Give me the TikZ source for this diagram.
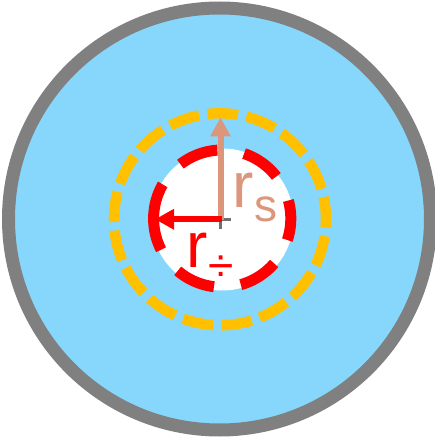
\documentclass[tikz,border=0pt]{standalone}
\usepackage{fontspec}
\setmainfont{Liberation Sans}
\usetikzlibrary{arrows.meta}
\definecolor{skyfill}{HTML}{87D7FD}
\definecolor{rimgray}{HTML}{808080}
\definecolor{goldline}{HTML}{FFC000}
\definecolor{salmonline}{HTML}{DC967C}
\definecolor{redline}{HTML}{FF0000}
\definecolor{markgray}{HTML}{707070}
\tikzset{
  rim/.style={draw=rimgray, line width=13pt, fill=skyfill},
  goldring/.style={draw=goldline, line width=10.5pt, dash pattern=on 30.68pt off 8.5pt},
  redring/.style={draw=redline, line width=11pt, dash pattern=on 40.11pt off 27.06pt},
  radiusarrow/.style={line width=6pt, -{Triangle[length=19pt,width=19.5pt]}},
  lbl/.style={anchor=base west, inner sep=0pt, outer sep=0pt}
}
\begin{document}
\begin{tikzpicture}[x=1pt,y=1pt]
\useasboundingbox (0,0) rectangle (435,440);
\fill[white] (0,0) rectangle (435,440);
% outer disc
\coordinate (bigc) at (219.5,221);
\path[rim] (bigc) circle[radius=211];
% white core
\coordinate (corec) at (222.5,220.5);
\fill[white] (corec) circle[radius=71];
% gold dashed ring
\coordinate (goldc) at (220,220.7);
\path[goldring] (goldc) ++(-4.5:106) arc[start angle=-4.5, end angle=355.5, radius=106];
% red dashed ring
\coordinate (redc) at (222.2,221.4);
\path[redring] (redc) ++(173.5:68.6) arc[start angle=173.5, end angle=533.5, radius=68.6];
% centre mark
\coordinate (c) at (220.7,220.5);
\coordinate (mh1) at (210,220.3);
\coordinate (mh2) at (231,220.3);
\coordinate (mv1) at (220.7,231);
\coordinate (mv2) at (220.7,210.5);
\draw[markgray, line width=2.5pt] (mh1) -- (mh2);
\draw[markgray, line width=2.5pt] (mv1) -- (mv2);
% arrows
\coordinate (stip) at (220.5,322.5);
\coordinate (dtip) at (155,220.7);
\draw[radiusarrow, salmonline] (220.5,220) coordinate (sbase) -- (stip);
\draw[radiusarrow, redline] (221.7,220.7) coordinate (dbase) -- (dtip);
% labels
\node[lbl, text=salmonline] (rs) at (232.7,232) {\fontsize{64}{64}\selectfont r\raisebox{-14pt}{\fontsize{46}{46}\selectfont s}};
\node[lbl, text=redline] (rd) at (186.7,172) {\fontsize{64}{64}\selectfont r\raisebox{-14pt}{\fontsize{46}{46}\selectfont ÷}};
\end{tikzpicture}
\end{document}
